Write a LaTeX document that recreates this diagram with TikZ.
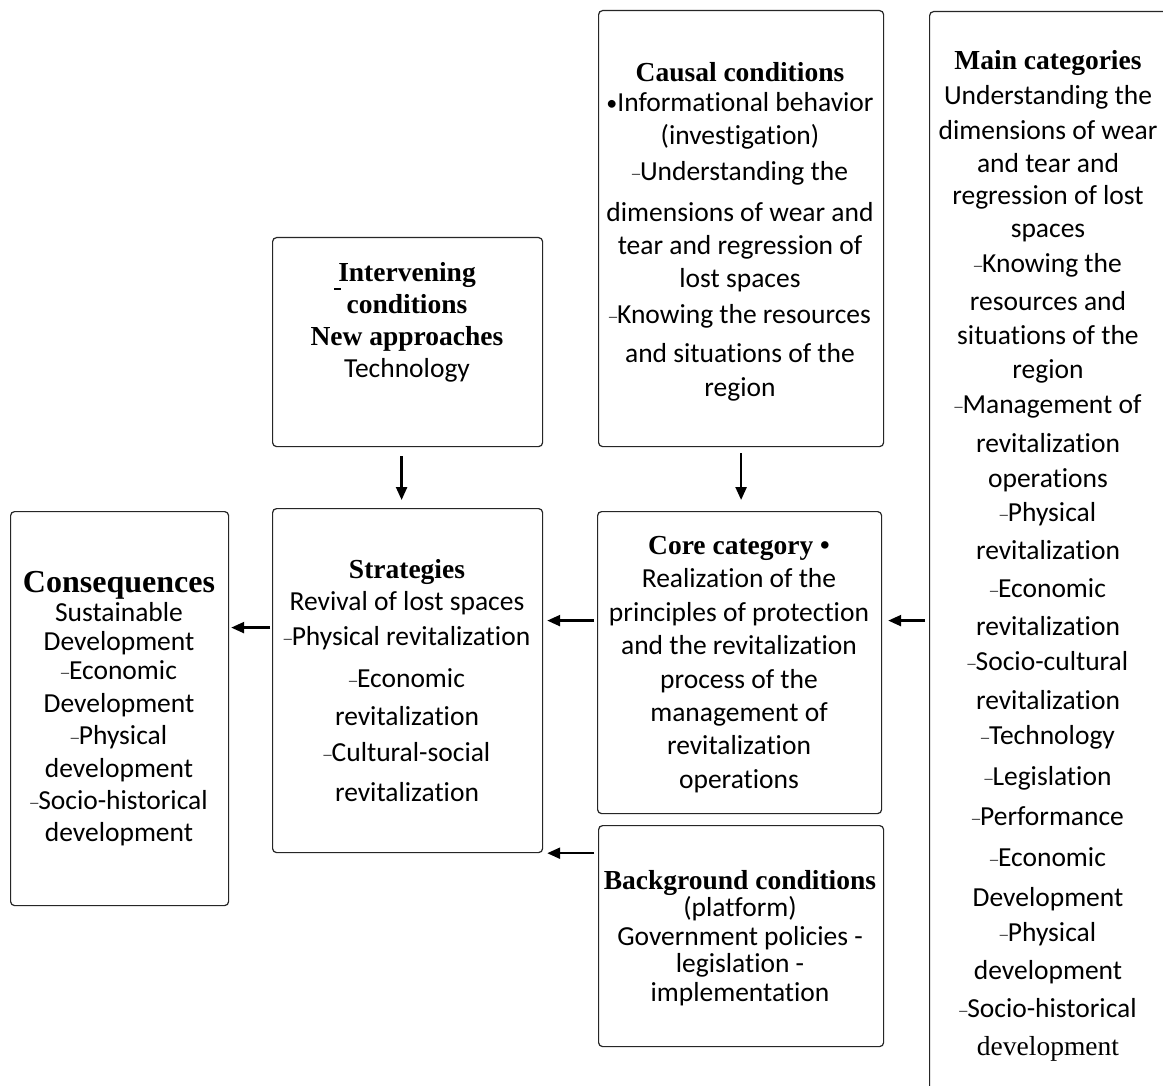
\documentclass[tikz,border=0pt]{standalone}
\usepackage{fontspec}
\setmainfont{Liberation Serif}
\newfontfamily\bodyf[Ligatures={NoCommon}]{Carlito}
\usetikzlibrary{arrows.meta}
\newcommand\dsh{{\rmfamily\fontsize{16}{16}\selectfont\raisebox{1.5pt}{–}}}
\newcommand\ttl[1]{{\rmfamily\bfseries #1}}
\newcommand\bul{{\fontsize{22}{22}\selectfont\raisebox{1pt}{•}}}
\begin{document}
\begin{tikzpicture}[x=1pt,y=-1pt,
  box/.style={draw=black!85, rounded corners=4pt, line width=1.2pt, inner sep=0pt, anchor=north west},
  txt/.style={anchor=north, align=center, inner sep=0pt, font={\bodyf\fontsize{27.5}{#1}\selectfont}},
  arr/.style={-{Triangle[length=13pt,width=11pt]}, line width=2.4pt}]
\useasboundingbox[fill=white] (0,0) rectangle (1163,1086);

% boxes
\node[box, minimum width=218pt, minimum height=394pt] (cons) at (10,511) {};
\node[box, minimum width=270pt, minimum height=344pt] (strat) at (272,508) {};
\node[box, minimum width=270pt, minimum height=209pt] (intv) at (272,237) {};
\node[box, minimum width=285pt, minimum height=436pt] (caus) at (598,10) {};
\node[box, minimum width=284pt, minimum height=302pt] (core) at (597,511) {};
\node[box, minimum width=285pt, minimum height=221pt] (bg) at (598,825) {};
\node[box, minimum width=300pt, minimum height=1150pt] (main) at (929,11) {};

% texts
\node[txt=34] (maintxt) at (1048,50) {\ttl{Main categories}\\[1pt]
Understanding the\\[1pt]
dimensions of wear\\[-1pt]
and tear and\\[-2pt]
regression of lost\\[-1pt]
spaces\\[1pt]
\dsh Knowing the\\[4pt]
resources and\\
situations of the\\
region\\[1pt]
\dsh Management of\\[5pt]
revitalization\\[1pt]
operations\\
\dsh Physical\\[4pt]
revitalization\\[4pt]
\dsh Economic\\[4pt]
revitalization\\[1pt]
\dsh Socio-cultural\\[5pt]
revitalization\\[1pt]
\dsh Technology\\[7pt]
\dsh Legislation\\[6pt]
\dsh Performance\\[7pt]
\dsh Economic\\[6pt]
Development\\[1pt]
\dsh Physical\\[4pt]
development\\[4pt]
\dsh Socio-historical\\[4pt]
{\rmfamily development}};

\node[txt=33] (caustxt) at (740,62) {\ttl{Causal conditions}\\[-3pt]
\bul Informational behavior\\
(investigation)\\[3pt]
\dsh Understanding the\\[8pt]
dimensions of wear and\\
tear and regression of\\
lost spaces\\[3pt]
\dsh Knowing the resources\\[6pt]
and situations of the\\[1pt]
region};

\node[txt=32] (intvtxt) at (407,262) {\ttl{Intervening}\\ \ttl{conditions}\\ \ttl{New approaches}\\ Technology};
\draw[line width=1.6pt] (334,289) -- (341,289);

\node[txt=33.4] (coretxt) at (739,536) {\ttl{Core category •}\\ Realization of the\\ principles of protection\\ and the revitalization\\ process of the\\ management of\\ revitalization\\ operations};

\node[txt=32] (strattxt) at (407,559) {\ttl{Strategies}\\ Revival of lost spaces\\[3pt] \dsh Physical revitalization\\[10pt] \dsh Economic\\[6pt] revitalization\\[4pt] \dsh Cultural-social\\[8pt] revitalization};

\node[txt=28] (bgtxt) at (740,870) {\ttl{Background conditions}\\[-1pt] (platform)\\[1pt] Government policies -\\[-1pt] legislation -\\[1pt] implementation};

\node[txt=31] (constxt) at (119,571) {{\rmfamily\bfseries\fontsize{32}{31}\selectfont Consequences}\\[-2pt] Sustainable\\[-2pt] Development\\[-2pt] \dsh Economic\\[2pt] Development\\[1pt] \dsh Physical\\[2pt] development\\[1pt] \dsh Socio-historical\\[1pt] development};

% arrows
\draw[arr, shorten <=9pt, shorten >=8pt] ([xshift=-6pt]intv.south) -- ([xshift=-6pt]strat.north);
\draw[arr, shorten <=6pt, shorten >=11pt] (caus.south) -- (caus.south |- core.north);
\draw[arr, shorten <=3pt, shorten >=4pt] ([yshift=42pt]core.west) -- ([yshift=42pt]core.west -| strat.east);
\draw[arr, shorten <=4pt, shorten >=6pt] ([yshift=42pt]core.east -| main.west) -- ([yshift=42pt]core.east);
\draw[arr, shorten <=2pt, shorten >=2pt] ([yshift=53pt]strat.west) -- ([yshift=53pt]strat.west -| cons.east);
\draw[arr, shorten <=4pt, shorten >=4pt] (strat.south east -| bg.west) -- (strat.south east);
\end{tikzpicture}
\end{document}
